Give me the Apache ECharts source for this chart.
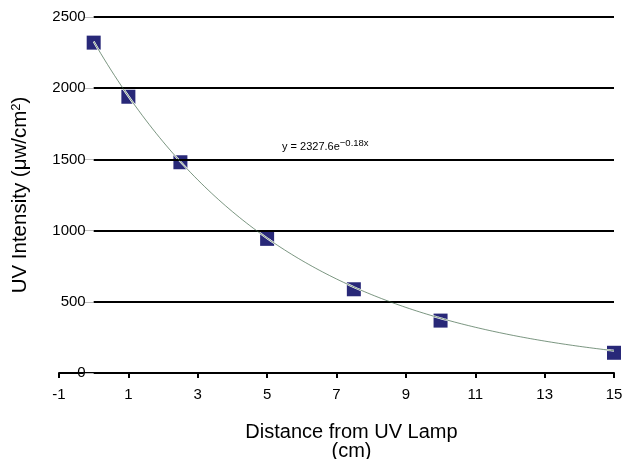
<!DOCTYPE html>
<html>
<head>
<meta charset="utf-8">
<script src="https://cdn.jsdelivr.net/npm/echarts@6/dist/echarts.min.js"></script>
<style>
html,body{margin:0;padding:0;background:#fff;}
#c{width:624px;height:459px;}
</style>
</head>
<body>
<div id="c"></div>
<script>
// Data
const distances = [0, 1, 2.5, 5, 7.5, 10, 15];
const intensities = [2320, 1940, 1480, 942, 588, 368, 142];
const xTicks = [-1, 1, 3, 5, 7, 9, 11, 13, 15];
const yTicks = [0, 500, 1000, 1500, 2000, 2500];
// Exponential trendline printed on the chart: y = 2327.6 e^(-0.18x)
const trendA = 2327.6;
const trendB = -0.18;
const trendRange = [0, 15];

const xMin = -1, xMax = 15;
const trendPts = [];
for (let i = 0; i <= 150; i++) {
  const x = trendRange[0] + (trendRange[1] - trendRange[0]) * i / 150;
  trendPts.push([x, trendA * Math.exp(trendB * x)]);
}
const points = distances.map((d, i) => [d, intensities[i]]);
const gridLines = yTicks.filter(v => v > 0).map(v => [{coord: [0, v]}, {coord: [xMax, v]}]);

const W = 624, gridLeft = 59, gridRight = 10;
const plotW = W - gridLeft - gridRight;
// y axis crosses the x axis at x = 0
const yAxisOffset = -plotW * (0 - xMin) / (xMax - xMin);

const chart = echarts.init(document.getElementById('c'), null, {renderer: 'canvas'});
const font = 'Liberation Sans, Arial, Helvetica, sans-serif';
chart.setOption({
  animation: false,
  backgroundColor: '#fff',
  grid: {left: gridLeft, right: gridRight, top: 17, bottom: 86, containLabel: false, outerBoundsMode: 'none'},
  xAxis: {
    type: 'value', min: xMin, max: xMax,
    name: 'Distance from UV Lamp\n(cm)',
    nameLocation: 'middle', nameGap: 50,
    nameTextStyle: {fontFamily: font, fontSize: 20, color: '#000', lineHeight: 19, padding: [0, 0, 0, 30]},
    axisLine: {onZero: false, lineStyle: {color: '#000', width: 2}},
    axisTick: {show: true, customValues: xTicks, length: 5, lineStyle: {color: '#000', width: 2}},
    axisLabel: {customValues: xTicks, fontFamily: font, fontSize: 15, color: '#000', margin: 14},
    splitLine: {show: false}
  },
  yAxis: {
    type: 'value', min: 0, max: 2500, interval: 500,
    offset: yAxisOffset,
    name: '{a|UV Intensity (μw/cm}{s|2}{a|)}',
    nameLocation: 'middle', nameGap: 63,
    nameTextStyle: {rich: {
      a: {fontFamily: font, fontSize: 20.5, color: '#000'},
      s: {fontFamily: font, fontSize: 13, color: '#000', verticalAlign: 'top', padding: [0,0,8,0]}
    }},
    axisLine: {show: true, onZero: false, lineStyle: {color: '#000', opacity: 0}},
    axisTick: {show: true, length: 10, lineStyle: {color: '#bbb', width: 1}},
    axisLabel: {fontFamily: font, fontSize: 15, color: '#000', margin: 8, formatter: v => String(v)},
    splitLine: {show: false}
  },
  graphic: [{
    type: 'text', left: 282, top: 138,
    style: {
      text: '{m|y = 2327.6e}{s|−0.18x}',
      rich: {
        m: {fontFamily: font, fontSize: 11, fill: '#000'},
        s: {fontFamily: font, fontSize: 9.5, fill: '#000', padding: [0,0,8,0]}
      }
    }
  }],
  series: [
    {
      type: 'line', data: [], silent: true,
      markLine: {
        silent: true, symbol: 'none', label: {show: false},
        lineStyle: {color: '#000', width: 2, type: 'solid'},
        data: gridLines
      }
    },
    {
      type: 'scatter', data: points, symbol: 'rect', symbolSize: 14,
      itemStyle: {color: '#282878', opacity: 1}, z: 3
    },
    {
      type: 'line', data: trendPts, showSymbol: false, smooth: false, z: 4,
      lineStyle: {color: '#ffffff', width: 2}
    },
    {
      type: 'line', data: trendPts, showSymbol: false, smooth: false, z: 5,
      lineStyle: {color: '#2f5a38', width: 0.8, opacity: 0.8}
    }
  ]
});
</script>
</body>
</html>
